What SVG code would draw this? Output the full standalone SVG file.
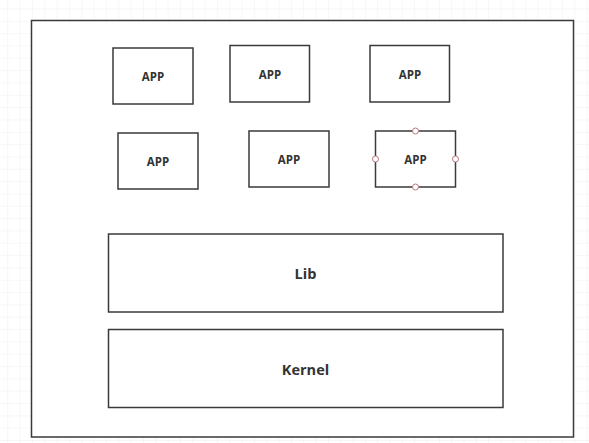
<svg xmlns="http://www.w3.org/2000/svg" width="589" height="443" viewBox="0 0 589 443">
<defs>
<pattern id="grid" x="7.3" y="8.5" width="12.33" height="12.33" patternUnits="userSpaceOnUse">
<path d="M0 0H12.33M0 0V12.33" fill="none" stroke="#efefef" stroke-width="1"/>
</pattern>
<style>
.box{fill:#fff;stroke:#3a3a3a;stroke-width:1.5}
.t{font-family:"Open Sans","Noto Sans","Liberation Sans",sans-serif;font-weight:bold;fill:#333;text-anchor:middle;dominant-baseline:central}
.app{font-size:11.5px}
.big{font-size:14.5px}
.h{fill:#fff;stroke:#b87a80;stroke-width:1}
</style>
</defs>
<rect width="589" height="443" fill="#fff"/>
<rect width="589" height="443" fill="url(#grid)"/>
<g id="frame"><rect class="box" x="31.5" y="20.5" width="542" height="416.5"/></g>
<g id="app1"><rect class="box" x="113" y="48" width="80" height="56"/><text class="t app" x="153" y="76">APP</text></g>
<g id="app2"><rect class="box" x="230" y="45.5" width="79.5" height="56.5"/><text class="t app" x="270" y="74">APP</text></g>
<g id="app3"><rect class="box" x="370" y="45.5" width="79.5" height="56.5"/><text class="t app" x="410" y="74">APP</text></g>
<g id="app4"><rect class="box" x="118" y="133" width="80" height="56"/><text class="t app" x="158" y="161">APP</text></g>
<g id="app5"><rect class="box" x="249" y="131" width="80" height="56"/><text class="t app" x="289" y="159">APP</text></g>
<g id="app6"><rect class="box" x="375.5" y="131" width="80" height="56"/><text class="t app" x="415.5" y="159">APP</text>
<circle class="h" cx="415.5" cy="131" r="3"/><circle class="h" cx="375.5" cy="159" r="3"/><circle class="h" cx="455.5" cy="159" r="3"/><circle class="h" cx="415.5" cy="187" r="3"/></g>
<g id="lib"><rect class="box" x="108.5" y="234" width="394.5" height="78"/><text class="t big" x="305.5" y="273">Lib</text></g>
<g id="kernel"><rect class="box" x="108.5" y="329.5" width="394.5" height="78"/><text class="t big" x="305.5" y="369">Kernel</text></g>
<g id="connectors"/>
</svg>
